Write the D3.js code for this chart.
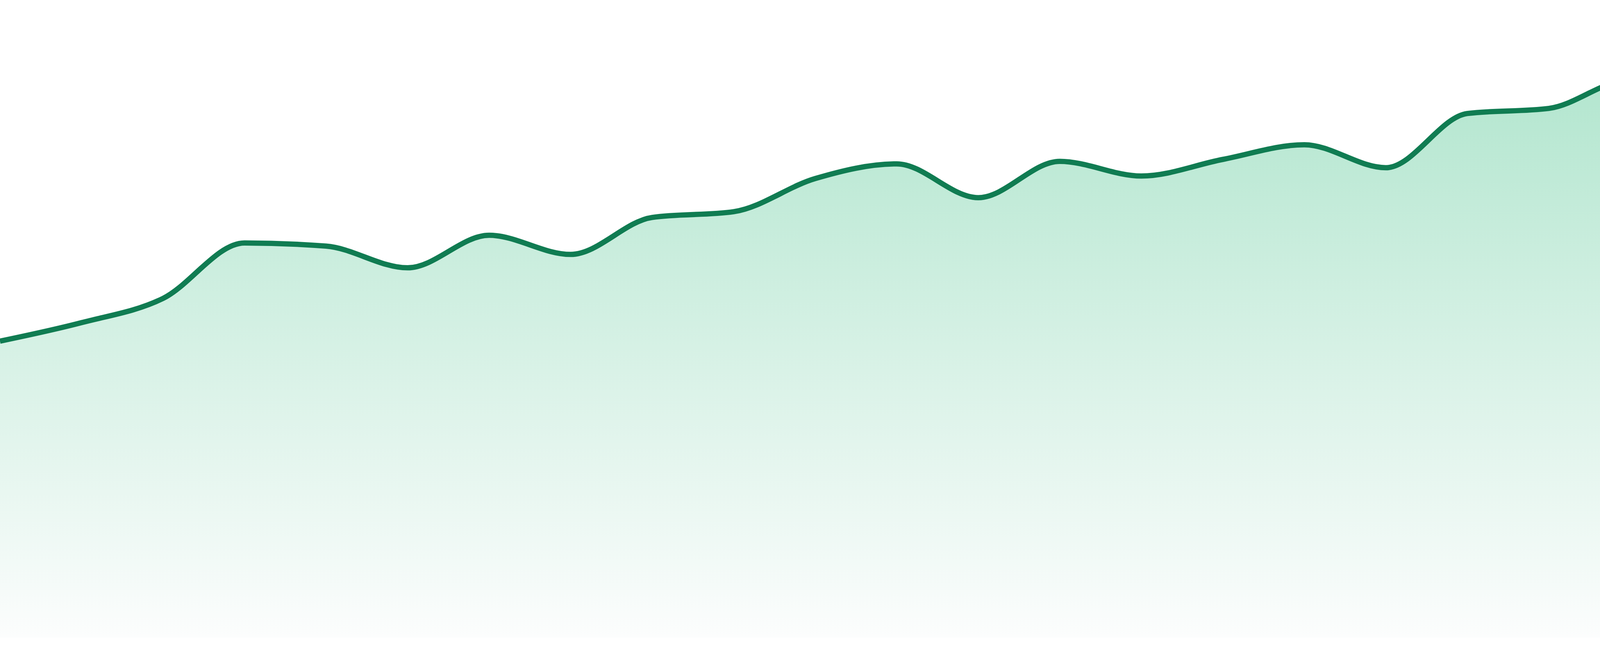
<!DOCTYPE html>
<html>
<head>
<meta charset="utf-8">
<script src="https://cdn.jsdelivr.net/npm/d3@7"></script>
<style>
  html, body { margin: 0; padding: 0; background: #ffffff; }
  svg { display: block; }
</style>
</head>
<body>
<div id="chart"></div>
<script>
"use strict";
// Series values (index = position along x)
const periods = d3.range(24);
const values = [
  465, 494, 532, 619, 614, 580, 631, 601, 659, 668, 720, 743,
  690, 747, 724, 750, 773, 737, 822, 830, 875, 857, 807, 815,
];
const yDomain = [0, 1000];

(function () {
  const width = 4800;
  const height = 1680;
  const baseline = 1633;

  const data = periods.map((p, i) => ({ period: p, value: values[i] }));

  const x = d3
    .scaleLinear()
    .domain(d3.extent(periods))
    .range([0, width]);
  const y = d3.scaleLinear().domain(yDomain).range([baseline, 0]);

  const svg = d3
    .select("#chart")
    .append("svg")
    .attr("width", width)
    .attr("height", height)
    .attr("viewBox", [0, 0, width, height]);

  // vertical fade of the area, from light green under the line to near white
  const gradient = svg
    .append("defs")
    .append("linearGradient")
    .attr("id", "areaFill")
    .attr("gradientUnits", "userSpaceOnUse")
    .attr("x1", 0)
    .attr("x2", 0)
    .attr("y1", y(d3.max(values)))
    .attr("y2", baseline);
  gradient.append("stop").attr("offset", 0).attr("stop-color", "#b3e6cf");
  gradient.append("stop").attr("offset", 1).attr("stop-color", "#fcfdfd");

  const curve = d3.curveMonotoneX;

  const area = d3
    .area()
    .x((d) => x(d.period))
    .y0(y(0))
    .y1((d) => y(d.value))
    .curve(curve);

  const line = d3
    .line()
    .x((d) => x(d.period))
    .y((d) => y(d.value))
    .curve(curve);

  svg
    .append("path")
    .datum(data)
    .attr("fill", "url(#areaFill)")
    .attr("d", area);

  svg
    .append("path")
    .datum(data)
    .attr("fill", "none")
    .attr("stroke", "#107c52")
    .attr("stroke-width", 13.5)
    .attr("stroke-linejoin", "round")
    .attr("d", line);
})();
</script>
</body>
</html>
